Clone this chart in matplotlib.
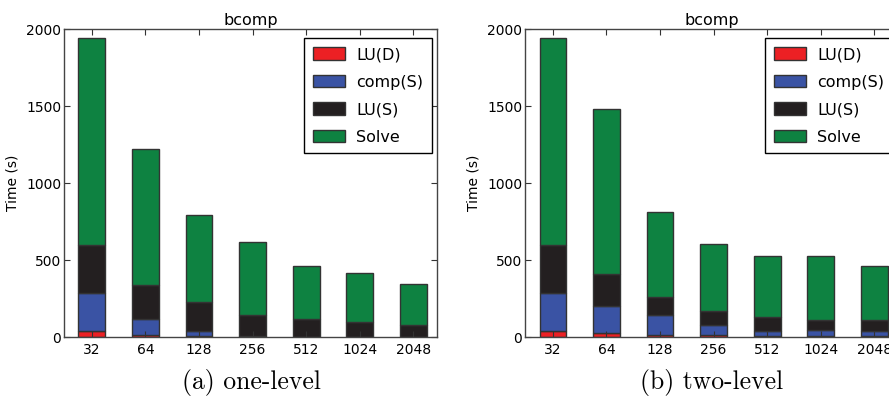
import matplotlib.pyplot as plt
import numpy as np

sizes = ["32", "64", "128", "256", "512", "1024", "2048"]
labels = ["LU(D)", "comp(S)", "LU(S)", "Solve"]
colors = ["#ec2024", "#3a53a4", "#231f20", "#0e8241"]

# cumulative tops (one-level)
one_lud = [39, 15, 5, 2, 1, 1, 1]
one_comp = [286, 115, 43, 10, 3, 2, 2]
one_lus = [601, 336, 228, 145, 115, 98, 80]
one_total = [1941, 1223, 794, 620, 462, 419, 343]

# two-level
two_lud = [39, 26, 15, 11, 8, 10, 10]
two_comp = [286, 202, 141, 82, 43, 48, 43]
two_lus = [601, 408, 260, 167, 134, 113, 113]
two_total = [1941, 1484, 811, 605, 525, 525, 460]

plt.rcParams['font.family'] = ['DejaVu Sans']

fig = plt.figure(figsize=(8.89, 3.99), dpi=100)
ax1 = fig.add_axes([0.072, 0.155, 0.42, 0.772])
ax2 = fig.add_axes([0.5906, 0.155, 0.42, 0.772])


def draw(ax, lud, comp, lus, total):
    x = np.arange(len(sizes))
    tops = [lud, comp, lus, total]
    bottom = np.zeros(len(sizes))
    for top, lab, col in zip(tops, labels, colors):
        h = np.array(top) - bottom
        ax.bar(x, h, 0.5, bottom=bottom, color=col, edgecolor="#333333",
               linewidth=1, label=lab)
        bottom = np.array(top, dtype=float)
    ax.set_xlim(-0.52, 6.45)
    ax.set_ylim(0, 2000)
    ax.set_yticks([0, 500, 1000, 1500, 2000])
    ax.set_xticks(x)
    ax.set_xticklabels(sizes)
    ax.tick_params(direction="in", top=True, right=True, length=4,
                   labelsize=10, color="#333333")
    ax.tick_params(axis="y", pad=2)
    ax.tick_params(axis="x", pad=4)
    for s in ax.spines.values():
        s.set_color("#444444")
        s.set_linewidth(1)
    ax.set_title("bcomp", fontsize=11.5, pad=3)
    ax.set_ylabel("Time (s)", fontsize=10, labelpad=5)
    leg = ax.legend(loc="upper right", fontsize=11.5, fancybox=False,
                    edgecolor="black", framealpha=1, handlelength=2.0,
                    handleheight=0.85, labelspacing=0.78, borderpad=0.55,
                    handletextpad=0.7, borderaxespad=0,
                    bbox_to_anchor=(0.985, 0.97))
    leg.get_frame().set_linewidth(1)


draw(ax1, one_lud, one_comp, one_lus, one_total)
draw(ax2, two_lud, two_comp, two_lus, two_total)

fig.text(0.283, 0.025, "(a) one-level", ha="center", fontsize=18.5,
         family=["cmr10", "DejaVu Serif"])
fig.text(0.80, 0.025, "(b) two-level", ha="center", fontsize=18.5,
         family=["cmr10", "DejaVu Serif"])

fig.savefig("out.png", dpi=100)
